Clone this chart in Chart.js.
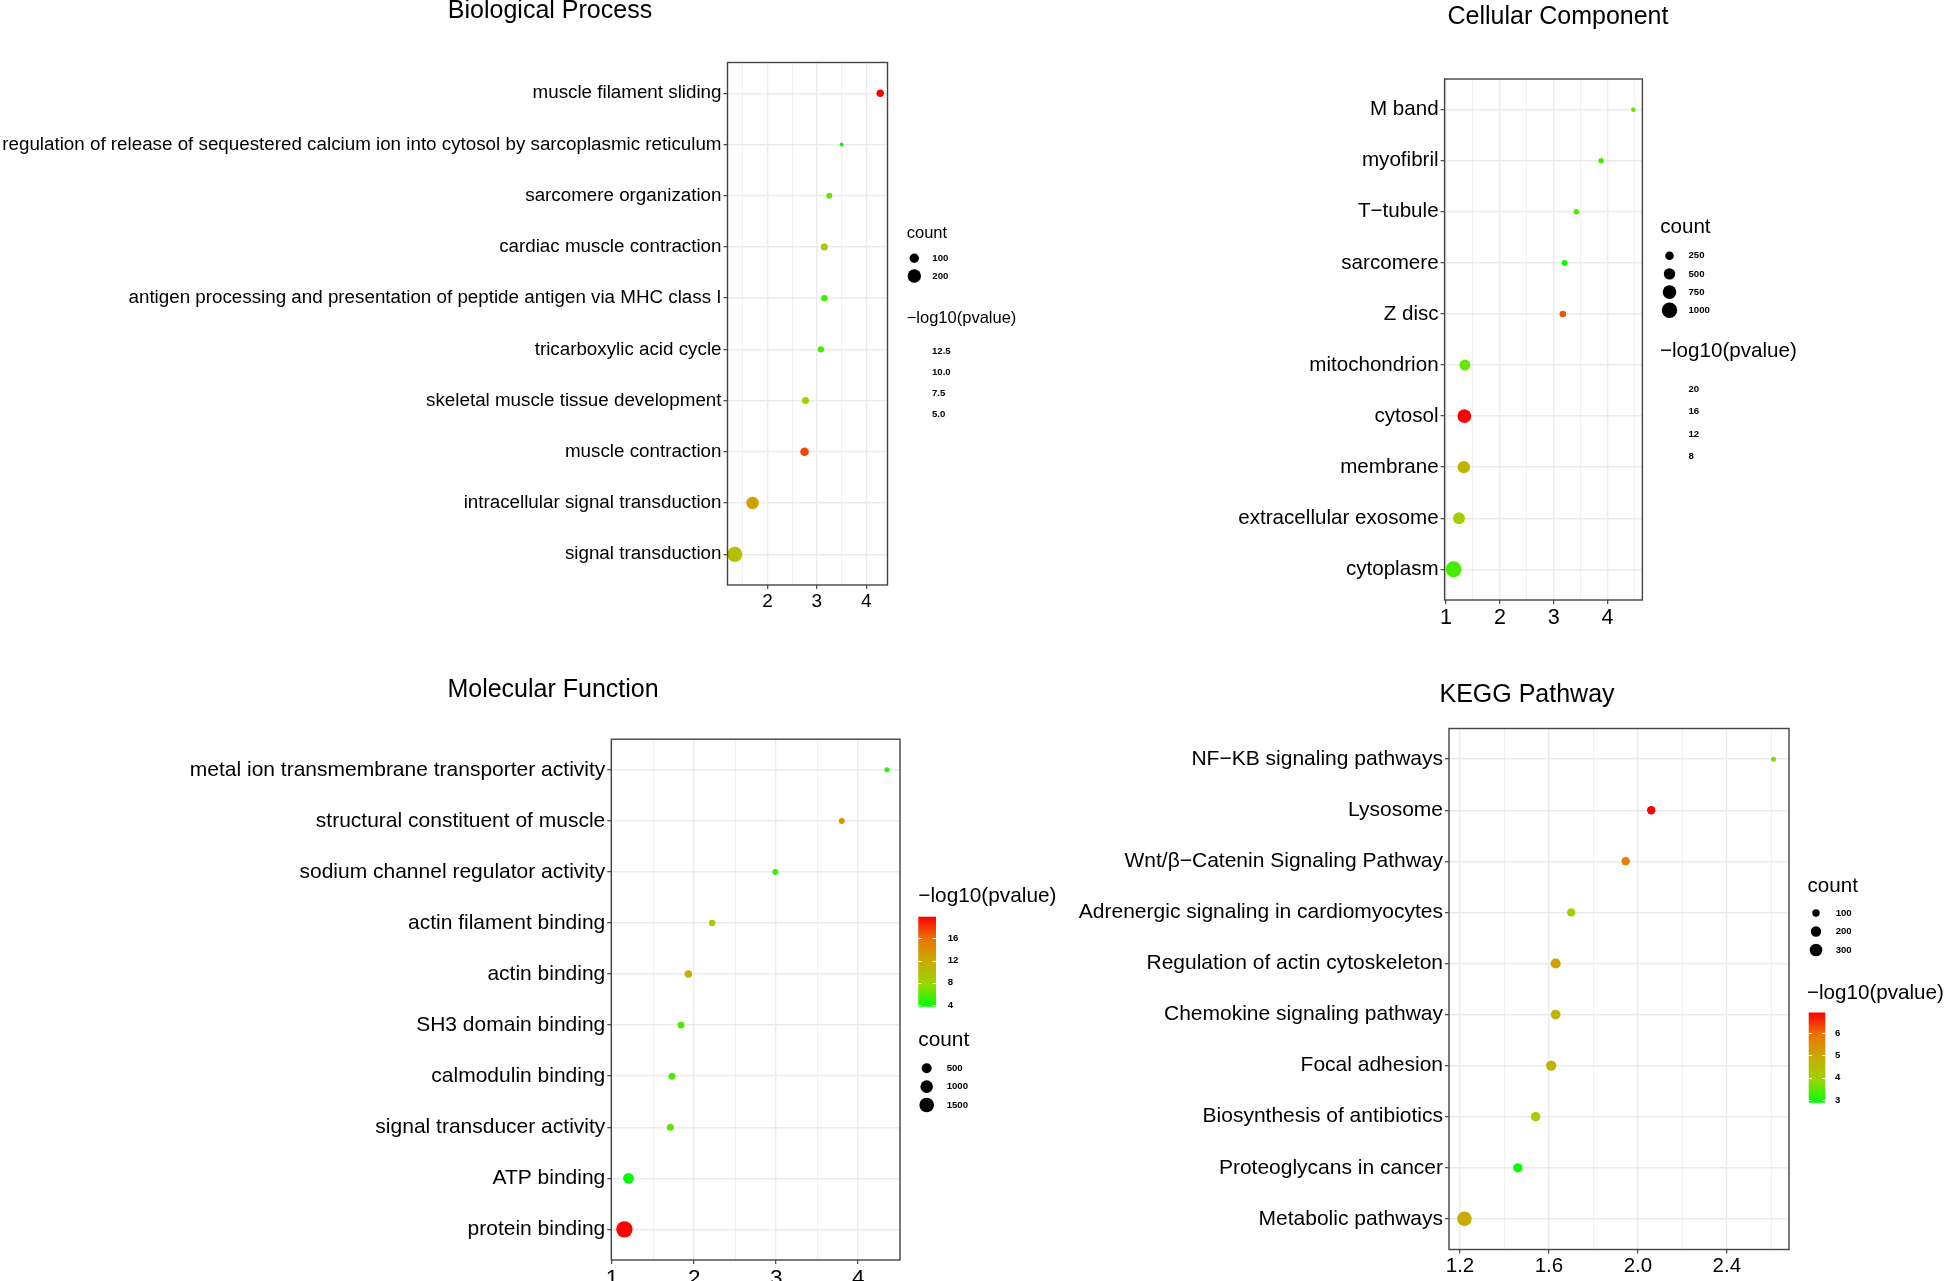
<!DOCTYPE html>
<html>
<head>
<meta charset="utf-8">
<script src="https://cdn.jsdelivr.net/npm/chart.js@4.4.0/dist/chart.umd.min.js"></script>
<style>
  html, body { margin: 0; padding: 0; background: #fff; width: 1946px; height: 1281px; overflow: hidden; }
  canvas { position: absolute; left: 0; top: 0; }
</style>
</head>
<body>
<canvas id="bp" width="1946" height="1320"></canvas>
<canvas id="cc" width="1946" height="1320"></canvas>
<canvas id="mf" width="1946" height="1320"></canvas>
<canvas id="kegg" width="1946" height="1320"></canvas>
<script>
// ---- Biological Process ----
const bpTerms = [
  "muscle filament sliding",
  "regulation of release of sequestered calcium ion into cytosol by sarcoplasmic reticulum",
  "sarcomere organization",
  "cardiac muscle contraction",
  "antigen processing and presentation of peptide antigen via MHC class I",
  "tricarboxylic acid cycle",
  "skeletal muscle tissue development",
  "muscle contraction",
  "intracellular signal transduction",
  "signal transduction"
];
const bpRatio = [4.28, 3.50, 3.25, 3.15, 3.15, 3.08, 2.77, 2.75, 1.70, 1.34];
const bpLogP = [14.0, 3.8, 5.5, 7.4, 5.0, 4.8, 6.4, 12.5, 9.4, 7.7];
const bpCount = [63, 19, 42, 56, 48, 48, 57, 84, 175, 256];
const bpXTicks = [2, 3, 4];
const bpXLabels = ["2", "3", "4"];
const bpCountBreaks = [100, 200];
const bpPBreaks = [12.5, 10, 7.5, 5];
const bpPLabels = ["12.5", "10.0", "7.5", "5.0"];

// ---- Cellular Component ----
const ccTerms = [
  "M band", "myofibril", "T\u2212tubule", "sarcomere", "Z disc",
  "mitochondrion", "cytosol", "membrane", "extracellular exosome", "cytoplasm"
];
const ccRatio = [4.48, 3.88, 3.42, 3.20, 3.17, 1.35, 1.34, 1.33, 1.24, 1.14];
const ccLogP = [8.1, 6.4, 6.7, 4.6, 19.1, 7.6, 22.3, 12.6, 9.9, 6.7];
const ccCount = [42, 70, 70, 80, 125, 458, 780, 608, 563, 1090];
const ccXTicks = [1, 2, 3, 4];
const ccXLabels = ["1", "2", "3", "4"];
const ccCountBreaks = [250, 500, 750, 1000];
const ccPBreaks = [20, 16, 12, 8];
const ccPLabels = ["20", "16", "12", "8"];

// ---- Molecular Function ----
const mfTerms = [
  "metal ion transmembrane transporter activity",
  "structural constituent of muscle",
  "sodium channel regulator activity",
  "actin filament binding",
  "actin binding",
  "SH3 domain binding",
  "calmodulin binding",
  "signal transducer activity",
  "ATP binding",
  "protein binding"
];
const mfRatio = [4.35, 3.80, 2.99, 2.22, 1.93, 1.84, 1.73, 1.71, 1.20, 1.15];
const mfLogP = [4.8, 13.4, 5.3, 9.0, 11.5, 5.6, 5.8, 6.1, 3.7, 19.9];
const mfCount = [22, 68, 68, 93, 193, 107, 139, 139, 640, 2030];
const mfXTicks = [1, 2, 3, 4];
const mfXLabels = ["1", "2", "3", "4"];
const mfCountBreaks = [500, 1000, 1500];
const mfPBreaks = [16, 12, 8, 4];
const mfPLabels = ["16", "12", "8", "4"];

// ---- KEGG Pathway ----
const keggTerms = [
  "NF\u2212KB signaling pathways",
  "Lysosome",
  "Wnt/\u03b2\u2212Catenin Signaling Pathway",
  "Adrenergic signaling in cardiomyocytes",
  "Regulation of actin cytoskeleton",
  "Chemokine signaling pathway",
  "Focal adhesion",
  "Biosynthesis of antibiotics",
  "Proteoglycans in cancer",
  "Metabolic pathways"
];
const keggRatio = [2.61, 2.06, 1.945, 1.70, 1.63, 1.63, 1.61, 1.54, 1.46, 1.22];
const keggLogP = [3.76, 6.92, 5.7, 4.0, 5.1, 4.7, 4.8, 4.1, 2.87, 4.9];
const keggCount = [44, 130, 130, 130, 190, 175, 200, 165, 160, 405];
const keggXTicks = [1.2, 1.6, 2.0, 2.4];
const keggXLabels = ["1.2", "1.6", "2.0", "2.4"];
const keggCountBreaks = [100, 200, 300];
const keggPBreaks = [6, 5, 4, 3];
const keggPLabels = ["6", "5", "4", "3"];

const FONT = '"Liberation Sans", Arial, Helvetica, sans-serif';
const W = 1946, H = 1320;

// green -> red gradient (Lab-like stops)
const rampStops = [[0, 255, 0], [152, 215, 0], [201, 171, 0], [232, 118, 0], [255, 0, 0]];
function rampColor(t) {
  t = Math.max(0, Math.min(1, t));
  const p = t * 4, i = Math.min(3, Math.floor(p)), f = p - i;
  const a = rampStops[i], b = rampStops[i + 1];
  const c = a.map((v, k) => Math.round(v + (b[k] - v) * f));
  return `rgb(${c[0]},${c[1]},${c[2]})`;
}

function makePanel(id, d, lay) {
  const lo = Math.min(...d.ratio), hi = Math.max(...d.ratio);
  const pad = (hi - lo) * 0.05;
  const xMin = lo - pad, xMax = hi + pad;
  const pLo = Math.min(...d.logp), pHi = Math.max(...d.logp);
  const radius = c => lay.size[0] * Math.sqrt(c) + lay.size[1];

  const points = d.terms.map((t, i) => ({ x: d.ratio[i], y: i + 1, r: radius(d.count[i]) }));
  const colors = d.logp.map(v => rampColor((v - pLo) / (pHi - pLo)));

  // major + minor breaks like ggplot
  const step = d.xTicks[1] - d.xTicks[0];
  const xs = d.xTicks.slice();
  for (let i = -1; i < d.xTicks.length; i++) xs.push(d.xTicks[0] + (i + 0.5) * step);
  const allTicks = xs.filter(v => v >= xMin && v <= xMax).sort((a, b) => a - b);
  const majorIdx = v => d.xTicks.findIndex(m => Math.abs(m - v) < 1e-6);

  const [bl, bt, br, bb] = lay.box;
  const xAxisH = 40;

  const decor = {
    id: 'decor' + id,
    afterDraw(chart) {
      const ctx = chart.ctx;
      const a = chart.chartArea;
      ctx.save();
      // panel border
      ctx.strokeStyle = '#444';
      ctx.lineWidth = 1.4;
      ctx.strokeRect(a.left, a.top, a.right - a.left, a.bottom - a.top);

      ctx.fillStyle = '#000';
      ctx.textBaseline = 'middle';
      // title
      ctx.textAlign = 'center';
      ctx.font = `25px ${FONT}`;
      ctx.fillText(d.title, lay.title[0], lay.title[1]);

      ctx.textAlign = 'left';
      // size legend
      ctx.font = `${lay.legFont}px ${FONT}`;
      ctx.fillText('count', lay.count[0], lay.count[1]);
      const [kx, ky, kdy, klab] = lay.keys;
      d.countBreaks.forEach((c, i) => {
        const y = ky + i * kdy;
        ctx.fillStyle = '#000';
        ctx.beginPath();
        ctx.arc(kx, y, radius(c), 0, Math.PI * 2);
        ctx.fill();
        ctx.font = `bold 9.6px ${FONT}`;
        ctx.fillText(String(c), kx + klab, y);
      });

      // colour legend
      ctx.font = `${lay.legFont}px ${FONT}`;
      ctx.fillText('\u2212log10(pvalue)', lay.colorTitle[0], lay.colorTitle[1]);
      const [x0, y0, x1, y1, drawBar] = lay.bar;
      const yOf = v => y1 - (v - pLo) / (pHi - pLo) * (y1 - y0);
      if (drawBar) {
        const g = ctx.createLinearGradient(0, y1, 0, y0);
        for (let s = 0; s <= 20; s++) g.addColorStop(s / 20, rampColor(s / 20));
        ctx.fillStyle = g;
        ctx.fillRect(x0, y0, x1 - x0, y1 - y0);
        ctx.strokeStyle = '#fff';
        ctx.lineWidth = 1;
        const tl = (x1 - x0) / 5;
        d.pBreaks.forEach(v => {
          const y = Math.round(yOf(v)) + 0.5;
          ctx.beginPath();
          ctx.moveTo(x0, y); ctx.lineTo(x0 + tl, y);
          ctx.moveTo(x1 - tl, y); ctx.lineTo(x1, y);
          ctx.stroke();
        });
      }
      ctx.fillStyle = '#000';
      ctx.font = `bold 9.6px ${FONT}`;
      d.pBreaks.forEach((v, i) => ctx.fillText(d.pLabels[i], lay.barLabelX, yOf(v)));
      ctx.restore();
    }
  };

  return new Chart(document.getElementById(id), {
    type: 'bubble',
    data: {
      datasets: [{
        data: points,
        backgroundColor: colors,
        borderWidth: 0,
        hoverRadius: 0
      }]
    },
    options: {
      responsive: false,
      animation: false,
      devicePixelRatio: 1,
      events: [],
      layout: { padding: { left: 0, top: bt, right: W - br, bottom: H - bb - xAxisH } },
      plugins: { legend: { display: false }, tooltip: { enabled: false } },
      scales: {
        x: {
          type: 'linear',
          min: xMin,
          max: xMax,
          afterBuildTicks: s => { s.ticks = allTicks.map(v => ({ value: v })); },
          afterFit: s => { s.height = xAxisH; },
          border: { display: false },
          grid: {
            color: '#EBEBEB',
            lineWidth: c => (c.tick && majorIdx(c.tick.value) >= 0) ? 1.4 : 0.7,
            drawTicks: true,
            tickLength: 4,
            tickWidth: 1.1,
            tickColor: c => (c.tick && majorIdx(c.tick.value) >= 0) ? '#333' : 'rgba(0,0,0,0)'
          },
          ticks: {
            autoSkip: false,
            maxRotation: 0,
            padding: 1,
            color: '#000',
            font: { family: FONT, size: lay.xFont },
            callback: v => { const k = majorIdx(v); return k >= 0 ? d.xLabels[k] : ''; }
          }
        },
        y: {
          type: 'linear',
          reverse: true,
          min: 0.4,
          max: d.terms.length + 0.6,
          afterBuildTicks: s => { s.ticks = d.terms.map((t, i) => ({ value: i + 1 })); },
          afterFit: s => { s.width = bl; },
          border: { display: false },
          grid: {
            color: '#EBEBEB',
            lineWidth: 1.4,
            drawTicks: true,
            tickLength: 4,
            tickWidth: 1.1,
            tickColor: '#333'
          },
          ticks: {
            autoSkip: false,
            padding: 2,
            color: '#000',
            font: { family: FONT, size: lay.yFont },
            callback: v => d.terms[Math.round(v) - 1]
          }
        }
      }
    },
    plugins: [decor]
  });
}

makePanel('bp',
  { title: 'Biological Process', terms: bpTerms, ratio: bpRatio, logp: bpLogP, count: bpCount,
    xTicks: bpXTicks, xLabels: bpXLabels, countBreaks: bpCountBreaks, pBreaks: bpPBreaks, pLabels: bpPLabels },
  { box: [727.5, 62.5, 887.5, 585], title: [550, 11], yFont: 18.8, xFont: 19, legFont: 16.5,
    size: [0.483, -0.13], count: [906.7, 233], keys: [914.3, 258.3, 17.7, 18],
    colorTitle: [906.7, 318], bar: [906.7, 339.1, 923, 424.3, false], barLabelX: 932 });

makePanel('cc',
  { title: 'Cellular Component', terms: ccTerms, ratio: ccRatio, logp: ccLogP, count: ccCount,
    xTicks: ccXTicks, xLabels: ccXLabels, countBreaks: ccCountBreaks, pBreaks: ccPBreaks, pLabels: ccPLabels },
  { box: [1444.6, 79, 1642.4, 600], title: [1558, 17], yFont: 20.6, xFont: 21.5, legFont: 20.6,
    size: [0.215, 0.9], count: [1660.2, 227], keys: [1669.5, 255.7, 18.2, 19],
    colorTitle: [1660, 351.8], bar: [1660, 376.4, 1677, 475.5, false], barLabelX: 1688.5 });

makePanel('mf',
  { title: 'Molecular Function', terms: mfTerms, ratio: mfRatio, logp: mfLogP, count: mfCount,
    xTicks: mfXTicks, xLabels: mfXLabels, countBreaks: mfCountBreaks, pBreaks: mfPBreaks, pLabels: mfPLabels },
  { box: [611.3, 739.2, 900, 1260], title: [553, 690], yFont: 21, xFont: 22.5, legFont: 20.8,
    size: [0.141, 1.84], count: [918.3, 1040], keys: [926.7, 1068.3, 18.35, 20],
    colorTitle: [918.3, 896.7], bar: [918.3, 916.7, 936, 1006.7, true], barLabelX: 947.7 });

makePanel('kegg',
  { title: 'KEGG Pathway', terms: keggTerms, ratio: keggRatio, logp: keggLogP, count: keggCount,
    xTicks: keggXTicks, xLabels: keggXLabels, countBreaks: keggCountBreaks, pBreaks: keggPBreaks, pLabels: keggPLabels },
  { box: [1449, 728.5, 1789, 1249.5], title: [1527, 695], yFont: 21, xFont: 20.5, legFont: 20.6,
    size: [0.356, 0.14], count: [1807.5, 886], keys: [1816, 913, 18.5, 19.7],
    colorTitle: [1807, 993], bar: [1808.7, 1012.5, 1825.3, 1102.8, true], barLabelX: 1835 });
</script>
</body>
</html>
